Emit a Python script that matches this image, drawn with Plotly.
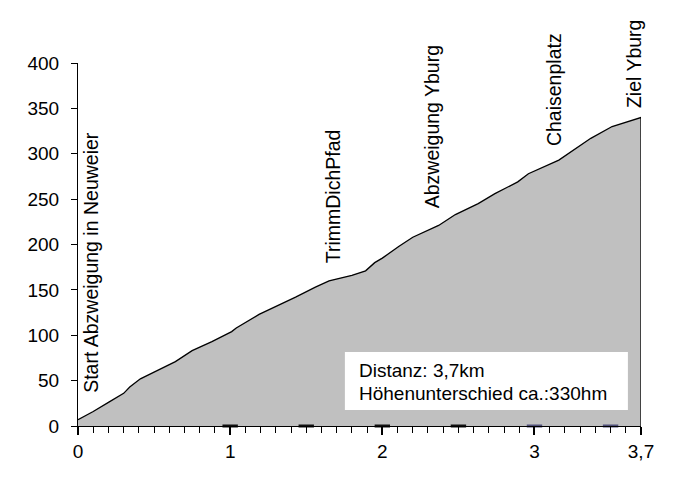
import plotly.graph_objects as go

# Profile data (km, elevation m)
km = [0.00, 0.10, 0.20, 0.30, 0.34, 0.41, 0.52, 0.64, 0.75, 0.88, 1.01, 1.04, 1.19,
      1.28, 1.43, 1.56, 1.65, 1.80, 1.89, 1.95, 2.00, 2.11, 2.20, 2.37, 2.48, 2.63,
      2.74, 2.89, 2.96, 3.16, 3.37, 3.51, 3.70, 3.70]
elev = [7, 16, 26, 36, 43, 52, 61, 71, 83, 93, 104, 108, 123,
        130, 142, 153, 160, 166, 171, 180, 185, 198, 208, 221, 233, 245,
        256, 269, 278, 293, 317, 330, 340, 0]

# Waypoint labels
wp_names = ["Start Abzweigung in Neuweier", "TrimmDichPfad", "Abzweigung Yburg",
            "Chaisenplatz", "Ziel Yburg"]
wp_km = [0.08, 1.675, 2.325, 3.13, 3.65]
wp_label_base = [34, 177, 238, 306, 348]

# Km marks on the baseline
mark_km = [1, 1.5, 2, 2.5, 3, 3.5]
mark_y = [0, 0, 0, 0, 0, 0]
mark_colors = ["#101010", "#101010", "#101010", "#101010", "#50507a", "#50507a"]

x_tickvals = [0, 1, 2, 3, 3.7]
x_ticktext = ["0", "1", "2", "3", "3,7"]

info_lines = ["Distanz: 3,7km", "Höhenunterschied ca.:330hm"]

FONT = "Liberation Sans, Arial, sans-serif"

fig = go.Figure()
fig.add_trace(go.Scatter(
    x=km, y=elev, mode="lines", fill="tozeroy",
    fillcolor="#c0c0c0", line=dict(color="black", width=1.3),
    hoverinfo="skip", showlegend=False,
))
fig.add_trace(go.Scatter(
    x=mark_km, y=mark_y, mode="markers", cliponaxis=False,
    marker=dict(symbol="line-ew", size=11, line=dict(width=3, color=mark_colors)),
    hoverinfo="skip", showlegend=False,
))

for name, xk, yb in zip(wp_names, wp_km, wp_label_base):
    fig.add_annotation(x=xk, y=yb, text=name, textangle=-90, showarrow=False,
                       xanchor="center", yanchor="bottom",
                       font=dict(family=FONT, size=19.5, color="black"))

# info box
fig.add_shape(type="rect", x0=1.754, x1=3.614, y0=17.6, y1=81.5,
              fillcolor="white", line=dict(width=0), layer="above")
for txt, yc in zip(info_lines, [61.5, 35.5]):
    fig.add_annotation(x=1.833, y=yc, text=txt, showarrow=False,
                       xanchor="left", yanchor="middle",
                       font=dict(family=FONT, size=19, color="black"))

fig.update_layout(
    width=686, height=477,
    margin=dict(l=70, r=53, t=55, b=59),
    paper_bgcolor="white", plot_bgcolor="white",
    font=dict(family=FONT, size=19, color="black"),
    xaxis=dict(range=[0, 3.7], tickmode="array", tickvals=x_tickvals, ticktext=x_ticktext,
               showgrid=False, zeroline=False, showline=True, linecolor="black", linewidth=1,
               ticks="outside", ticklen=8, tickwidth=2, tickcolor="black",
               minor=dict(dtick=0.1, tick0=0, ticks="outside", ticklen=6, tickwidth=1,
                          tickcolor="black", showgrid=False),
               tickfont=dict(family=FONT, size=19, color="black")),
    yaxis=dict(range=[0, 400], dtick=50, tick0=0,
               showgrid=False, zeroline=False, showline=True, linecolor="black", linewidth=1,
               ticks="outside", ticklen=6, tickwidth=1, tickcolor="black",
               ticklabelstandoff=8,
               tickfont=dict(family=FONT, size=19, color="black")),
)

fig.write_html("out.html")
